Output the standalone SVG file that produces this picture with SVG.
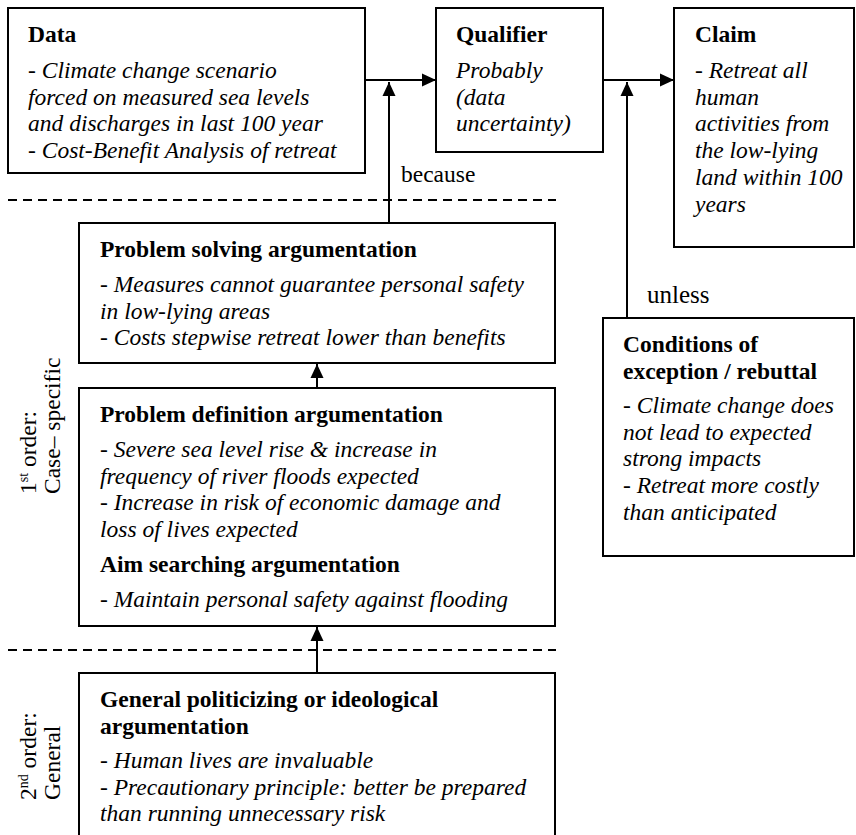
<svg xmlns="http://www.w3.org/2000/svg" width="856" height="835" viewBox="0 0 856 835">
  <style>
    .box { fill: #ffffff; stroke: #000000; stroke-width: 2; }
    .t { font-family: "Liberation Serif", "Times New Roman", serif; font-size: 23.5px; fill: #000000; }
    .b { font-weight: bold; }
    .i { font-style: italic; }
    .conn { stroke: #000000; stroke-width: 2; fill: none; }
    .sep { stroke: #000000; stroke-width: 2; stroke-dasharray: 9 6; fill: none; }
    .sup { font-size: 14px; }
  </style>
  <defs>
    <marker id="arrow" markerUnits="userSpaceOnUse" markerWidth="14" markerHeight="14" viewBox="0 0 14 14" refX="14" refY="7" orient="auto">
      <path d="M0,0.5 L14,7 L0,13.5 Z" fill="#000000"/>
    </marker>
  </defs>

  <rect width="856" height="835" fill="#ffffff"/>

  <!-- level separators -->
  <g id="separators">
    <line class="sep" x1="8" y1="200" x2="556" y2="200"/>
    <line class="sep" x1="8" y1="650" x2="556" y2="650"/>
  </g>

  <!-- connectors -->
  <g id="connectors">
    <line class="conn" x1="365" y1="80" x2="436" y2="80" marker-end="url(#arrow)"/>
    <line class="conn" x1="603" y1="80" x2="674" y2="80" marker-end="url(#arrow)"/>
    <line class="conn" x1="389" y1="223" x2="389" y2="82" marker-end="url(#arrow)"/>
    <line class="conn" x1="627" y1="318" x2="627" y2="82" marker-end="url(#arrow)"/>
    <line class="conn" x1="317" y1="388" x2="317" y2="364" marker-end="url(#arrow)"/>
    <line class="conn" x1="317" y1="673" x2="317" y2="627" marker-end="url(#arrow)"/>
    <text class="t" x="401" y="182">because</text>
    <text class="t" x="647" y="303" style="font-size:25px">unless</text>
  </g>

  <g id="data">
    <rect class="box" x="8" y="8" width="357" height="165"/>
    <text class="t b" x="28" y="42">Data</text>
    <text class="t i" x="28" y="78">- Climate change scenario</text>
    <text class="t i" x="28" y="104.7">forced on measured sea levels</text>
    <text class="t i" x="28" y="131.4">and discharges in last 100 year</text>
    <text class="t i" x="28" y="158">- Cost-Benefit Analysis of retreat</text>
  </g>

  <g id="qualifier">
    <rect class="box" x="436" y="8" width="167" height="144"/>
    <text class="t b" x="456" y="42">Qualifier</text>
    <text class="t i" x="456" y="78">Probably</text>
    <text class="t i" x="456" y="104.7">(data</text>
    <text class="t i" x="456" y="131.4">uncertainty)</text>
  </g>

  <g id="claim">
    <rect class="box" x="674" y="8" width="180" height="239"/>
    <text class="t b" x="695" y="42">Claim</text>
    <text class="t i" x="695" y="78">- Retreat all</text>
    <text class="t i" x="695" y="104.7">human</text>
    <text class="t i" x="695" y="131.4">activities from</text>
    <text class="t i" x="695" y="158">the low-lying</text>
    <text class="t i" x="695" y="184.8">land within 100</text>
    <text class="t i" x="695" y="211.5">years</text>
  </g>

  <g id="rebuttal">
    <rect class="box" x="603" y="318" width="251" height="238"/>
    <text class="t b" x="623" y="352">Conditions of</text>
    <text class="t b" x="623" y="378.7">exception / rebuttal</text>
    <text class="t i" x="623" y="413">- Climate change does</text>
    <text class="t i" x="623" y="439.7">not lead to expected</text>
    <text class="t i" x="623" y="466.4">strong impacts</text>
    <text class="t i" x="623" y="493">- Retreat more costly</text>
    <text class="t i" x="623" y="519.8">than anticipated</text>
  </g>

  <g id="problem-solving">
    <rect class="box" x="79" y="223" width="476" height="140"/>
    <text class="t b" x="100" y="257">Problem solving argumentation</text>
    <text class="t i" x="100" y="292">- Measures cannot guarantee personal safety</text>
    <text class="t i" x="100" y="318.7">in low-lying areas</text>
    <text class="t i" x="100" y="345.4">- Costs stepwise retreat lower than benefits</text>
  </g>

  <g id="problem-definition">
    <rect class="box" x="79" y="388" width="476" height="238"/>
    <text class="t b" x="100" y="422">Problem definition argumentation</text>
    <text class="t i" x="100" y="457">- Severe sea level rise &amp; increase in</text>
    <text class="t i" x="100" y="483.7">frequency of river floods expected</text>
    <text class="t i" x="100" y="510.4">- Increase in risk of economic damage and</text>
    <text class="t i" x="100" y="537">loss of lives expected</text>
    <text class="t b" x="100" y="572">Aim searching argumentation</text>
    <text class="t i" x="100" y="607">- Maintain personal safety against flooding</text>
  </g>

  <g id="general">
    <rect class="box" x="79" y="673" width="476" height="180"/>
    <text class="t b" x="100" y="707">General politicizing or ideological</text>
    <text class="t b" x="100" y="733.7">argumentation</text>
    <text class="t i" x="100" y="768">- Human lives are invaluable</text>
    <text class="t i" x="100" y="794.7">- Precautionary principle: better be prepared</text>
    <text class="t i" x="100" y="821.4">than running unnecessary risk</text>
  </g>

  <!-- order labels, reading bottom to top -->
  <g id="order-labels">
    <text class="t" transform="translate(36,494) rotate(-90)">1<tspan class="sup" dy="-8">st</tspan><tspan dy="8"> order:</tspan></text>
    <text class="t" transform="translate(60,494) rotate(-90)">Case– specific</text>
    <text class="t" transform="translate(36,800) rotate(-90)">2<tspan class="sup" dy="-8">nd</tspan><tspan dy="8"> order:</tspan></text>
    <text class="t" transform="translate(60,800) rotate(-90)">General</text>
  </g>
</svg>
